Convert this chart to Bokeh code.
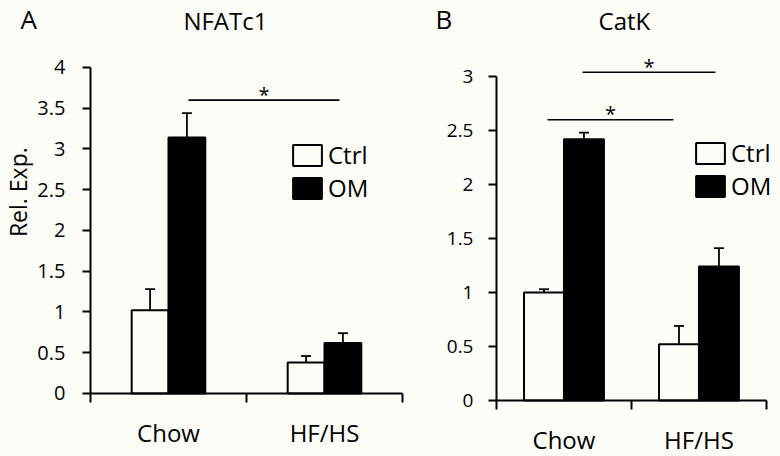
import math
from bokeh.plotting import figure
from bokeh.layouts import row
from bokeh.models import (ColumnDataSource, Range1d, FixedTicker, SingleIntervalTicker,
                          NumeralTickFormatter, Whisker, TeeHead, Label, Legend, LegendItem,
                          LinearAxis)
from bokeh.transform import dodge
from bokeh.core.properties import value
from bokeh.embed import file_html
from bokeh.resources import INLINE

# ---------------- data ----------------
groups = ["Chow", "HF/HS"]
series = ["Ctrl", "OM"]

nfatc1_ctrl = [1.02, 0.38]
nfatc1_ctrl_err = [0.26, 0.08]
nfatc1_om = [3.14, 0.62]
nfatc1_om_err = [0.30, 0.12]

catk_ctrl = [1.00, 0.52]
catk_ctrl_err = [0.03, 0.17]
catk_om = [2.42, 1.24]
catk_om_err = [0.06, 0.17]

nfatc1_sig_start = ["Chow"]
nfatc1_sig_end = ["HF/HS"]
nfatc1_sig_y = [3.6]

catk_sig_start = ["Chow", "Chow"]
catk_sig_end = ["HF/HS", "HF/HS"]
catk_sig_y = [2.6, 3.04]

y_label = "Rel. Exp."

# ---------------- style ----------------
BG = "#fdfdf8"
FONT = "Open Sans"
H = 456


def panel(letter, title, ctrl, ctrl_err, om, om_err, sig_start, sig_end, sig_y, sig_offsets,
          axis_top, xr, yr, tick_step, width, bar_w, legend_loc, letter_pos,
          title_pos, ylabel=None, ylabel_pos=None, tick_size="19px", tick_standoff=16):
    p = figure(width=width, height=H, x_range=Range1d(*xr), y_range=Range1d(*yr),
               x_axis_type=None, y_axis_type=None,
               output_backend="svg", toolbar_location=None,
               min_border=0, min_border_left=0, min_border_right=0,
               min_border_top=0, min_border_bottom=0,
               background_fill_color=BG, border_fill_color=BG,
               outline_line_color=None)
    p.xgrid.visible = False
    p.ygrid.visible = False

    src = ColumnDataSource(dict(
        xc=[i + 0.5 for i in range(len(groups))], group=groups, ctrl=ctrl, om=om,
        ctrl_hi=[v + e for v, e in zip(ctrl, ctrl_err)],
        ctrl_lo=[v - e for v, e in zip(ctrl, ctrl_err)],
        om_hi=[v + e for v, e in zip(om, om_err)],
        om_lo=[v - e for v, e in zip(om, om_err)],
    ))
    off = bar_w / 2
    r_ctrl = p.vbar(x=dodge("xc", -off), top="ctrl", width=bar_w,
                    source=src, fill_color=BG, line_color="black", line_width=2)
    r_om = p.vbar(x=dodge("xc", off), top="om", width=bar_w,
                  source=src, fill_color="black", line_color="black", line_width=2)

    for col, o in (("ctrl", -off), ("om", off)):
        w = Whisker(source=src, base=dodge("xc", o),
                    upper=col + "_hi", lower=col + "_lo", line_width=1.8, line_color="black",
                    upper_head=TeeHead(size=10, line_width=1.8, line_color="black"),
                    lower_head=TeeHead(size=10, line_width=1.8, line_color="black"))
        p.add_layout(w)

    # significance bars
    x0 = [groups.index(s) + 0.5 + o[0] for s, o in zip(sig_start, sig_offsets)]
    x1 = [groups.index(e) + 0.5 + o[1] for e, o in zip(sig_end, sig_offsets)]
    ssrc = ColumnDataSource(dict(x0=x0, x1=x1, y=sig_y,
                                 xm=[(a + b) / 2 for a, b in zip(x0, x1)],
                                 t=["*"] * len(sig_y)))
    p.segment(x0="x0", x1="x1", y0="y", y1="y", source=ssrc, line_color="black", line_width=1.6)
    p.text(x="xm", y="y", text="t", source=ssrc, text_align="center", text_baseline="middle",
           y_offset=-6, text_font=value(FONT), text_font_size="20px", text_color="black")

    # y axis, pinned at x = 0
    ya = LinearAxis(fixed_location=0, bounds=(0, axis_top),
                    ticker=SingleIntervalTicker(interval=tick_step, num_minor_ticks=0),
                    formatter=NumeralTickFormatter(format="0.[0]"))
    ya.axis_line_width = 2
    ya.axis_line_color = "black"
    ya.major_tick_line_width = 2
    ya.major_tick_line_color = "black"
    ya.major_tick_out = 8
    ya.major_tick_in = 0
    ya.minor_tick_line_color = None
    ya.major_label_standoff = tick_standoff
    ya.major_label_text_font = FONT
    ya.major_label_text_font_size = tick_size
    ya.major_label_text_color = "black"
    p.add_layout(ya, "left")

    if ylabel:
        p.add_layout(Label(x=ylabel_pos[0], y=ylabel_pos[1], text=ylabel, angle=math.pi / 2,
                           text_align="center", text_baseline="middle", text_font=FONT,
                           text_font_size="23px", text_color="black"))

    # x axis, pinned at y = 0: labels at category centres, ticks at category boundaries
    xa = LinearAxis(fixed_location=0, bounds=(0, len(groups)),
                    ticker=FixedTicker(ticks=[i + 0.5 for i in range(len(groups))],
                                       minor_ticks=list(range(len(groups) + 1))),
                    major_label_overrides={i + 0.5: g for i, g in enumerate(groups)})
    xa.axis_line_width = 2
    xa.axis_line_color = "black"
    xa.major_tick_line_color = None
    xa.major_tick_out = 0
    xa.major_tick_in = 0
    xa.minor_tick_line_color = "black"
    xa.minor_tick_line_width = 2
    xa.minor_tick_out = 9
    xa.minor_tick_in = 0
    xa.major_label_standoff = 14
    xa.major_label_text_font = FONT
    xa.major_label_text_font_size = "24px"
    xa.major_label_text_color = "black"
    p.add_layout(xa, "below")

    legend = Legend(items=[LegendItem(label=series[0], renderers=[r_ctrl]),
                           LegendItem(label=series[1], renderers=[r_om])],
                    location=legend_loc, border_line_color=None, background_fill_alpha=0,
                    glyph_width=36, glyph_height=26, label_text_font=FONT,
                    label_text_font_size="24px", label_text_color="black",
                    label_standoff=3, spacing=0, padding=0, margin=0)
    p.add_layout(legend)

    p.add_layout(Label(x=letter_pos[0], y=letter_pos[1], text=letter, text_align="left",
                       text_baseline="middle", text_font=FONT, text_font_size="26px",
                       text_color="black"))
    p.add_layout(Label(x=title_pos[0], y=title_pos[1], text=title, text_align="center",
                       text_baseline="middle", text_font=FONT, text_font_size="24px",
                       text_color="black"))
    return p


pA = panel("A", "NFATc1", nfatc1_ctrl, nfatc1_ctrl_err, nfatc1_om, nfatc1_om_err,
           nfatc1_sig_start, nfatc1_sig_end, nfatc1_sig_y, [(0.128, 0.096)],
           axis_top=4, xr=(-0.5769, 2.0513), yr=(-0.773, 4.822), tick_step=0.5, width=410,
           bar_w=0.236, legend_loc=(289, 252), letter_pos=(-0.449, 4.601),
           title_pos=(0.865, 4.577), ylabel=y_label, ylabel_pos=(-0.462, 2.47),
           tick_size="20px", tick_standoff=17)

pB = panel("B", "CatK", catk_ctrl, catk_ctrl_err, catk_om, catk_om_err,
           catk_sig_start, catk_sig_end, catk_sig_y, [(-0.122, -0.189), (0.137, 0.122)],
           axis_top=3, xr=(-0.637, 2.104), yr=(-0.519, 3.704), tick_step=0.5, width=370,
           bar_w=0.296, legend_loc=(282, 254), letter_pos=(-0.452, 3.537),
           title_pos=(0.948, 3.519), ylabel=None, tick_size="19px", tick_standoff=15)

layout = row(pA, pB, spacing=0)
html = file_html(layout, INLINE)
style = ("<style>html,body{margin:0;padding:0;background:%s;overflow:hidden}</style>" % BG)
html = html.replace("</head>", style + "</head>", 1)
open("out.html", "w").write(html)
